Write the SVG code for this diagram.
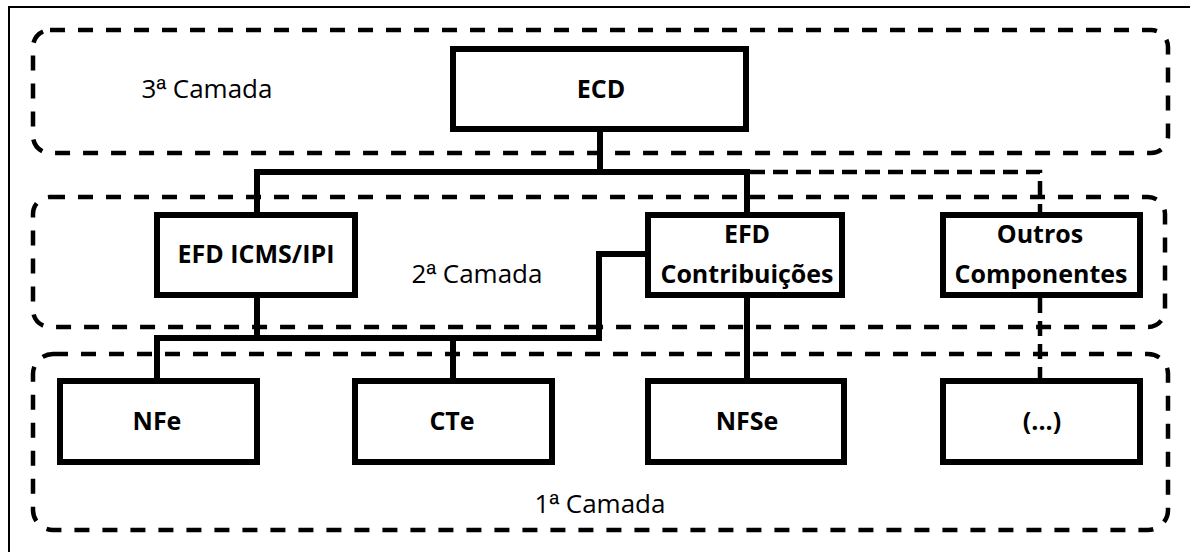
<svg xmlns="http://www.w3.org/2000/svg" width="1190" height="552" viewBox="0 0 1190 552">
  <style>
    .frame { fill: none; stroke: #000; stroke-width: 2; }
    .layer { fill: none; stroke: #000; stroke-width: 4.5; stroke-dasharray: 15 13; }
    .box { fill: #fff; stroke: #000; stroke-width: 6; }
    .link { fill: none; stroke: #000; stroke-width: 6; stroke-linejoin: miter; stroke-linecap: square; }
    .link-dash { fill: none; stroke: #000; stroke-width: 4.5; stroke-dasharray: 15 8; }
    .label { font-family: "Open Sans", "Noto Sans", sans-serif; font-size: 25px; font-weight: bold; text-anchor: middle; fill: #000; }
    .layer-label { font-family: "Open Sans", "Noto Sans", sans-serif; font-size: 26px; text-anchor: middle; fill: #000; }
    .ord { font-family: "Liberation Sans", "DejaVu Sans", sans-serif; }
  </style>
  <rect width="1190" height="552" fill="#fff"/>
  <rect class="frame" x="9" y="7" width="1200" height="560"/>

  <!-- layers -->
  <g id="layer-3">
    <rect class="layer" x="33" y="30" width="1135" height="123" rx="17"/>
    <text class="layer-label" x="207" y="98">3<tspan class="ord">ª</tspan> Camada</text>
  </g>
  <g id="layer-2">
    <rect class="layer" x="33" y="197" width="1132" height="130" rx="17"/>
    <text class="layer-label" x="477" y="283">2<tspan class="ord">ª</tspan> Camada</text>
  </g>
  <g id="layer-1">
    <rect class="layer" x="33" y="354" width="1135" height="176" rx="20"/>
    <text class="layer-label" x="600" y="513">1<tspan class="ord">ª</tspan> Camada</text>
  </g>

  <!-- connectors -->
  <g id="connectors">
    <path class="link" d="M600 132 V172"/>
    <path class="link" d="M257 212 V172 H747 V212"/>
    <path class="link-dash" d="M750 172 H1040 V212"/>
    <path class="link-dash" d="M1040 298 V378"/>
    <path class="link" d="M257 298 V338"/>
    <path class="link" d="M157 378 V338 H599 V254 H645"/>
    <path class="link" d="M453 338 V378"/>
    <path class="link" d="M747 298 V378"/>
  </g>

  <!-- nodes -->
  <g id="ecd">
    <rect class="box" x="453" y="49" width="293" height="80"/>
    <text class="label" x="601" y="98">ECD</text>
  </g>
  <g id="efd-icms-ipi">
    <rect class="box" x="157" y="215" width="198" height="80"/>
    <text class="label" x="256" y="263">EFD ICMS/IPI</text>
  </g>
  <g id="efd-contribuicoes">
    <rect class="box" x="648" y="215" width="194" height="80"/>
    <text class="label" x="747" y="243">EFD</text>
    <text class="label" x="747" y="283">Contribuições</text>
  </g>
  <g id="outros-componentes">
    <rect class="box" x="943" y="215" width="197" height="80"/>
    <text class="label" x="1040" y="243">Outros</text>
    <text class="label" x="1041" y="283">Componentes</text>
  </g>
  <g id="nfe">
    <rect class="box" x="60" y="381" width="197" height="81"/>
    <text class="label" x="157" y="430">NFe</text>
  </g>
  <g id="cte">
    <rect class="box" x="355" y="381" width="197" height="81"/>
    <text class="label" x="452" y="430">CTe</text>
  </g>
  <g id="nfse">
    <rect class="box" x="648" y="381" width="196" height="81"/>
    <text class="label" x="747" y="430">NFSe</text>
  </g>
  <g id="outros">
    <rect class="box" x="943" y="381" width="197" height="81"/>
    <text class="label" x="1042" y="430">(...)</text>
  </g>
</svg>
